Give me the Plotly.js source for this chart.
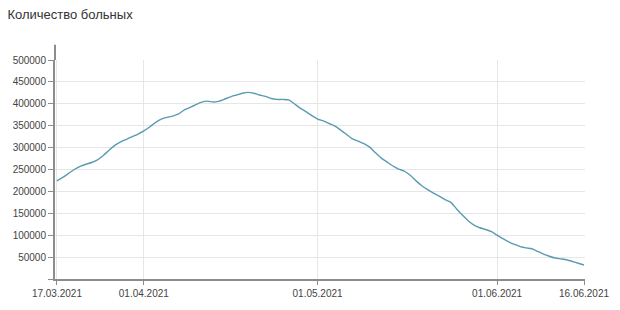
<!DOCTYPE html>
<html>
<head>
<meta charset="utf-8">
<script src="https://cdn.plot.ly/plotly-3.0.1.min.js"></script>
<style>html,body{margin:0;padding:0;background:#fff;}#chart{width:620px;height:310px;}</style>
</head>
<body>
<div id="chart"></div>
<script>
// Daily values from 17.03.2021 to 16.06.2021
const startDate = '2021-03-17';
const patients = [
  224000,232000,241000,250000,257000,262000,266000,272000,282000,294000,
  305000,313000,319000,325000,331000,338000,347000,357000,365000,369000,
  372000,377000,386000,392000,398000,404000,406000,404000,406000,411000,
  416000,420000,424000,426000,424000,420000,417000,412000,410000,410000,
  409000,400000,390000,382000,373000,365000,361000,355000,349000,340000,
  330000,320000,315000,309000,301000,288000,276000,267000,258000,251000,
  246000,237000,224000,213000,204000,196000,189000,181000,175000,160000,
  146000,133000,123000,117000,113000,108000,100000,92000,85000,79000,
  74000,71000,69000,63000,57000,52000,48000,46000,44000,40000,
  36000,32000
];
const xTickVals = ['2021-03-17','2021-04-01','2021-05-01','2021-06-01','2021-06-16'];
const xTickText = ['17.03.2021','01.04.2021','01.05.2021','01.06.2021','16.06.2021'];
const yTickVals = [0,50000,100000,150000,200000,250000,300000,350000,400000,450000,500000];
const yTickText = ['','50000','100000','150000','200000','250000','300000','350000','400000','450000','500000'];
const titleText = 'Количество больных';

const dates = [];
const d0 = new Date(startDate + 'T00:00:00Z');
for (let i = 0; i < patients.length; i++) {
  const d = new Date(d0.getTime() + i * 86400000);
  dates.push(d.toISOString().slice(0, 10));
}

const axisColor = '#8c8c8c';
const gridColor = '#e6e6e6';

const trace = {
  x: dates, y: patients, type: 'scatter', mode: 'lines',
  line: {color: '#5b9bb2', width: 1.4, shape: 'spline', smoothing: 0.6},
  hoverinfo: 'x+y'
};

const layout = {
  width: 620, height: 310,
  margin: {l: 55, r: 35, t: 60, b: 31},
  paper_bgcolor: '#fff', plot_bgcolor: '#fff',
  font: {family: 'Arial, "Liberation Sans", sans-serif', size: 10, color: '#444'},
  showlegend: false,
  title: {text: titleText, x: 0.012, xref: 'container', xanchor: 'left', y: 0.955, yanchor: 'middle',
          pad: {l: 0}, font: {size: 13, color: '#333', family: 'Arial, "Liberation Sans", sans-serif'}},
  xaxis: {
    type: 'date',
    range: ['2021-03-16 16:00', '2021-06-16 04:00'],
    tickvals: xTickVals, ticktext: xTickText,
    showgrid: true, gridcolor: gridColor, gridwidth: 1,
    showline: true, linecolor: axisColor, linewidth: 2,
    ticks: 'outside', ticklen: 4, tickcolor: axisColor, tickwidth: 1,
    zeroline: false, tickfont: {size: 10, color: '#444'}
  },
  yaxis: {
    range: [0, 500000],
    tickvals: yTickVals, ticktext: yTickText,
    showgrid: true, gridcolor: gridColor, gridwidth: 1,
    showline: true, linecolor: axisColor, linewidth: 2,
    ticks: 'outside', ticklen: 5, tickcolor: axisColor, tickwidth: 1,
    zeroline: false, tickfont: {size: 10, color: '#444'}
  },
  shapes: [
    {type: 'line', xref: 'paper', yref: 'paper', x0: 0, x1: 0, y0: 1, y1: 1.07,
     line: {color: axisColor, width: 2}}
  ]
};

Plotly.newPlot('chart', [trace], layout, {displayModeBar: false, staticPlot: true});
</script>
</body>
</html>
